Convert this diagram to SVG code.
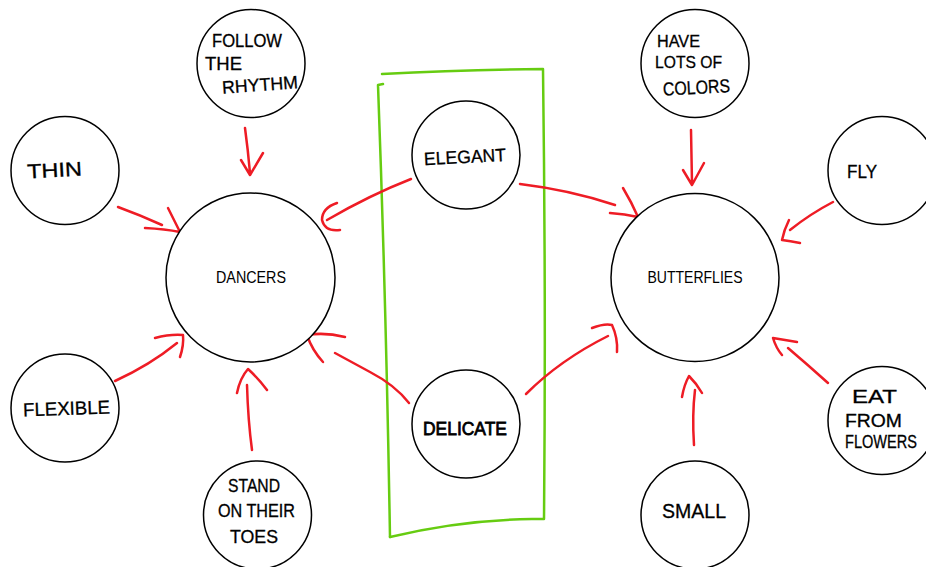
<svg xmlns="http://www.w3.org/2000/svg" width="926" height="567" viewBox="0 0 926 567">
<style>
.node circle{fill:#fff;stroke:#000;stroke-width:1.5}
.hand{font-family:"Liberation Sans","DejaVu Sans",sans-serif;fill:#000;stroke:#000;stroke-width:0.3}
.main{font-family:"Liberation Sans",Arial,sans-serif;fill:#000;font-size:16.5px}
.conn path{fill:none;stroke:#ee1c25;stroke-width:2.5;stroke-linecap:round;stroke-linejoin:round}
.box{fill:none;stroke:#66cc11;stroke-width:2.5;stroke-linecap:round;stroke-linejoin:round}
</style>
<rect width="926" height="567" fill="#fff"/>
<g id="group-box">
<path class="box" d="M382,74 Q460,70 543,69 Q546,300 544,519 L532,519 Q460,520 390,537"/>
<path class="box" d="M383,84 L378,85 Q386,300 390,537"/>
</g>
<g id="connectors" class="conn">
<path d="M118,207 Q140,215 162,225 M168,208 Q174,220 180,232 M145,228 Q165,229 180,232"/>
<path d="M245,128 Q248,150 250,173 M241,160 L250,175 L263,153"/>
<path d="M411,179 Q370,195 327,220 M337,203 Q322,208 322,220 Q325,232 340,230"/>
<path d="M520,184 Q570,190 615,205 M623,188 Q632,203 638,217 M610,213 Q625,214 638,217"/>
<path d="M691,130 L692,183 M683,170 L692,185 L704,163"/>
<path d="M833,202 Q810,214 790,230 M789,220 Q784,230 782,240 Q790,241 800,243"/>
<path d="M115,381 Q150,365 177,343 M155,338 Q170,334 183,335 Q184,345 180,357"/>
<path d="M252,450 Q248,420 247,385 M237,393 Q240,378 248,369 Q258,378 267,390"/>
<path d="M409,403 Q395,385 370,372 L335,353 M345,337 Q325,332 307,335 Q312,350 323,362"/>
<path d="M526,394 Q560,360 608,336 M592,328 Q605,323 612,325 Q618,338 617,352"/>
<path d="M694,445 Q692,415 695,390 M682,397 Q684,385 689,376 Q697,384 702,393"/>
<path d="M828,383 Q808,365 788,348 M797,342 L773,338 Q776,348 782,355"/>
</g>
<g id="dancers" class="node"><circle cx="250.5" cy="277.5" r="84.5"/><text class="main" x="251" y="283" text-anchor="middle" textLength="70" lengthAdjust="spacingAndGlyphs">DANCERS</text></g>
<g id="butterflies" class="node"><circle cx="695" cy="277.5" r="84"/><text class="main" x="695" y="283" text-anchor="middle" textLength="95" lengthAdjust="spacingAndGlyphs">BUTTERFLIES</text></g>
<g id="thin" class="node"><circle cx="65" cy="170.5" r="54"/><text class="hand" font-size="20" x="27" y="177" textLength="55" lengthAdjust="spacingAndGlyphs" transform="rotate(-3 54 170)">THIN</text></g>
<g id="follow" class="node"><circle cx="251" cy="63.5" r="54"/>
<text class="hand" font-size="18"><tspan x="212" y="47" textLength="70" lengthAdjust="spacingAndGlyphs">FOLLOW</tspan><tspan x="205" y="70" textLength="37" lengthAdjust="spacingAndGlyphs">THE</tspan></text>
<text class="hand" font-size="18" x="222" y="91" textLength="76" lengthAdjust="spacingAndGlyphs" transform="rotate(-4 260 85)">RHYTHM</text></g>
<g id="elegant" class="node"><circle cx="466" cy="155" r="54"/><text class="hand" font-size="18" x="424" y="163" textLength="82" lengthAdjust="spacingAndGlyphs" transform="rotate(-3 465 157)">ELEGANT</text></g>
<g id="colors" class="node"><circle cx="695" cy="63.5" r="54"/>
<text class="hand" font-size="17"><tspan x="657" y="47" textLength="43" lengthAdjust="spacingAndGlyphs">HAVE</tspan><tspan x="655" y="68" textLength="67" lengthAdjust="spacingAndGlyphs">LOTS OF</tspan></text>
<text class="hand" font-size="19" x="663" y="94" textLength="67" lengthAdjust="spacingAndGlyphs" transform="rotate(-3 696 88)">COLORS</text></g>
<g id="fly" class="node"><circle cx="882" cy="170.5" r="54"/><text class="hand" font-size="19" x="847" y="178" textLength="30" lengthAdjust="spacingAndGlyphs">FLY</text></g>
<g id="flexible" class="node"><circle cx="65" cy="408" r="54"/><text class="hand" font-size="19" x="23" y="415" textLength="87" lengthAdjust="spacingAndGlyphs" transform="rotate(-2 66 408)">FLEXIBLE</text></g>
<g id="toes" class="node"><circle cx="257.5" cy="515" r="54"/>
<text class="hand" font-size="18"><tspan x="228" y="492" textLength="52" lengthAdjust="spacingAndGlyphs">STAND</tspan><tspan x="218" y="517" textLength="77" lengthAdjust="spacingAndGlyphs">ON THEIR</tspan><tspan x="230" y="543" textLength="48" lengthAdjust="spacingAndGlyphs">TOES</tspan></text></g>
<g id="delicate" class="node"><circle cx="466" cy="424" r="54"/><text class="hand" font-size="19" x="423" y="435" textLength="84" lengthAdjust="spacingAndGlyphs" style="stroke-width:0.8">DELICATE</text></g>
<g id="small" class="node"><circle cx="695" cy="515" r="54"/><text class="hand" font-size="20" x="662" y="518" textLength="64" lengthAdjust="spacingAndGlyphs">SMALL</text></g>
<g id="eat" class="node"><circle cx="882" cy="420.5" r="54"/>
<text class="hand" font-size="18"><tspan x="852" y="403" textLength="45" lengthAdjust="spacingAndGlyphs">EAT</tspan><tspan x="845" y="427" textLength="57" lengthAdjust="spacingAndGlyphs">FROM</tspan><tspan x="845" y="448" textLength="72" lengthAdjust="spacingAndGlyphs">FLOWERS</tspan></text></g>
</svg>
